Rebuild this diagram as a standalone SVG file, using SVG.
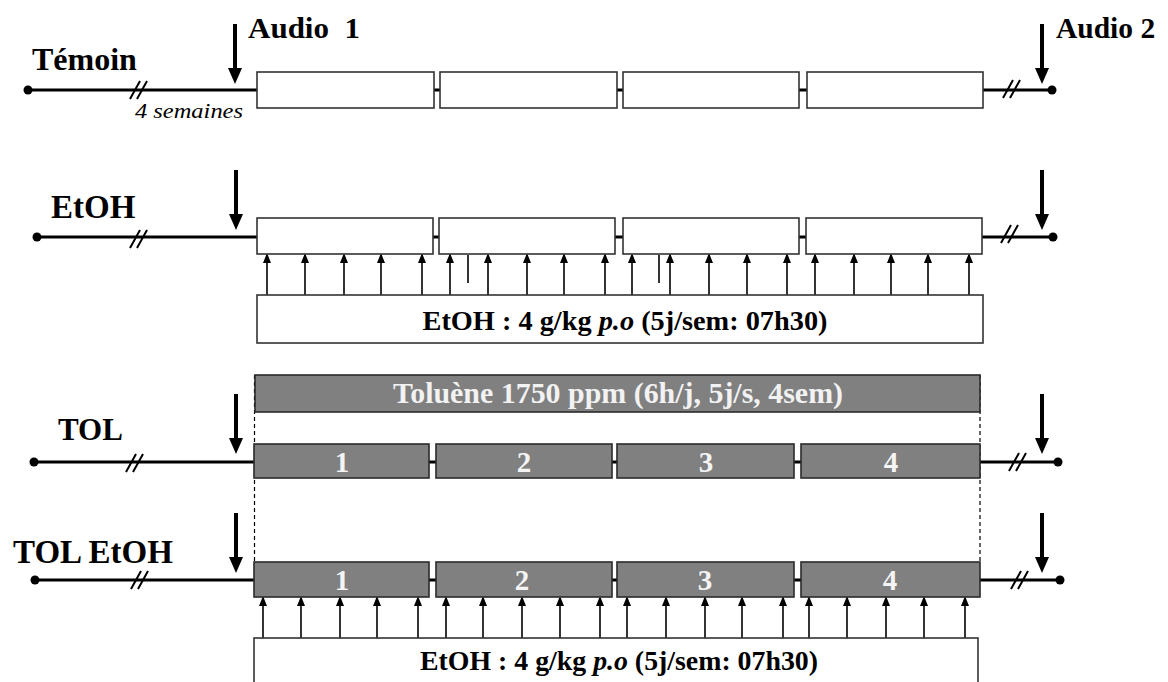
<svg xmlns="http://www.w3.org/2000/svg" xmlns:xlink="http://www.w3.org/1999/xlink" width="1168" height="682" viewBox="0 0 1168 682">
<style>
text{font-family:"Liberation Serif","Times New Roman",serif;font-weight:bold;fill:#000}
.lbl{font-size:32px}
.audio{font-size:29.5px}
.it{font-style:italic;font-weight:normal;font-size:22px}
.dose{font-size:28px}
.num{font-size:29px;fill:#f4f4f4}
.tol{font-size:30px;fill:#f2f2f2}
.wbox{fill:#fff;stroke:#333;stroke-width:1.6}
.gbox{fill:#808080;stroke:#2a2a2a;stroke-width:1.6}
.tl{stroke:#000;stroke-width:3;fill:none}
.thin{stroke:#000;stroke-width:1.6;fill:none}
.sa{stroke:#000;stroke-width:1.6;fill:none;marker-end:url(#ah)}
.brk{stroke:#000;stroke-width:2;fill:none}
.dash{stroke:#000;stroke-width:1.2;stroke-dasharray:4 3;fill:none}
</style>
<defs>
<marker id="ah" markerUnits="userSpaceOnUse" markerWidth="10" markerHeight="8" refX="8" refY="4" orient="auto">
<path d="M0,0 L10,4 L0,8 Z" fill="#000"/>
</marker>
<path id="big" d="M-2,0 H2 V44 H7 L0,60 L-7,44 H-2 Z" fill="#000"/>
<path id="brk" d="M-9,9 L1,-9 M-2,9 L8,-9"/>
<circle id="dot" r="4.5" fill="#000"/>
</defs>

<g id="connectors">
<line class="tl" x1="28" y1="90" x2="1052" y2="90"/>
<line class="tl" x1="37" y1="237" x2="1053" y2="237"/>
<line class="tl" x1="34" y1="462" x2="1058" y2="462"/>
<line class="tl" x1="35" y1="580" x2="1060" y2="580"/>
<use xlink:href="#dot" x="28" y="90"/><use xlink:href="#dot" x="1052" y="90"/>
<use xlink:href="#dot" x="37" y="237"/><use xlink:href="#dot" x="1053" y="237"/>
<use xlink:href="#dot" x="34" y="462"/><use xlink:href="#dot" x="1058" y="462"/>
<use xlink:href="#dot" x="35" y="580"/><use xlink:href="#dot" x="1060" y="580"/>
<g class="brk">
<use xlink:href="#brk" x="139" y="90"/><use xlink:href="#brk" x="1012" y="89"/>
<use xlink:href="#brk" x="139" y="239"/><use xlink:href="#brk" x="1010" y="234"/>
<use xlink:href="#brk" x="135" y="463"/><use xlink:href="#brk" x="1018" y="462"/>
<use xlink:href="#brk" x="140" y="580"/><use xlink:href="#brk" x="1020" y="580"/>
</g>
<use xlink:href="#big" x="235" y="24"/><use xlink:href="#big" x="1042" y="24"/>
<use xlink:href="#big" x="236" y="170"/><use xlink:href="#big" x="1042" y="170"/>
<use xlink:href="#big" x="236" y="394"/><use xlink:href="#big" x="1042" y="394"/>
<use xlink:href="#big" x="236" y="513"/><use xlink:href="#big" x="1042" y="513"/>
<line class="dash" x1="254.5" y1="375" x2="254.5" y2="562"/>
<line class="dash" x1="980" y1="375" x2="980" y2="562"/>
<g id="etoh-arrows-1">
<path class="sa" d="M267,295V255"/><path class="sa" d="M305,295V255"/><path class="sa" d="M344,295V255"/><path class="sa" d="M381,295V255"/><path class="sa" d="M422,295V255"/>
<path class="sa" d="M450,295V255"/><path class="sa" d="M488,295V255"/><path class="sa" d="M527,295V255"/><path class="sa" d="M564,295V255"/><path class="sa" d="M605,295V255"/>
<path class="sa" d="M632,295V255"/><path class="sa" d="M670,295V255"/><path class="sa" d="M709,295V255"/><path class="sa" d="M747,295V255"/><path class="sa" d="M787,295V255"/>
<path class="sa" d="M815,295V255"/><path class="sa" d="M854,295V255"/><path class="sa" d="M891,295V255"/><path class="sa" d="M928,295V255"/><path class="sa" d="M969,295V255"/>
<path class="thin" d="M468,255V283"/><path class="thin" d="M659,255V283"/>
</g>
<g id="etoh-arrows-2">
<path class="sa" d="M263,638V598"/><path class="sa" d="M301,638V598"/><path class="sa" d="M340,638V598"/><path class="sa" d="M377,638V598"/><path class="sa" d="M418,638V598"/>
<path class="sa" d="M446,638V598"/><path class="sa" d="M483,638V598"/><path class="sa" d="M522,638V598"/><path class="sa" d="M560,638V598"/><path class="sa" d="M600,638V598"/>
<path class="sa" d="M627,638V598"/><path class="sa" d="M666,638V598"/><path class="sa" d="M705,638V598"/><path class="sa" d="M742,638V598"/><path class="sa" d="M783,638V598"/>
<path class="sa" d="M809,638V598"/><path class="sa" d="M847,638V598"/><path class="sa" d="M886,638V598"/><path class="sa" d="M924,638V598"/><path class="sa" d="M965,638V598"/>
</g>
</g>

<g id="labels">
<text class="lbl" x="32" y="70">Témoin</text>
<text class="audio" x="248" y="38" xml:space="preserve" textLength="112" lengthAdjust="spacingAndGlyphs">Audio  1</text>
<text class="audio" x="1056" y="38">Audio 2</text>
<text class="it" x="135" y="118" textLength="108" lengthAdjust="spacingAndGlyphs">4 semaines</text>
<text class="lbl" x="51" y="218" style="font-size:33px">EtOH</text>
<text class="lbl" x="58" y="440" style="font-size:31px">TOL</text>
<text class="lbl" x="13" y="563" style="font-size:33px">TOL EtOH</text>
</g>

<g id="temoin-weeks">
<rect class="wbox" x="257" y="72" width="177" height="36"/>
<rect class="wbox" x="440" y="72" width="177" height="36"/>
<rect class="wbox" x="623" y="72" width="176" height="36"/>
<rect class="wbox" x="807" y="72" width="176" height="36"/>
</g>

<g id="etoh-weeks">
<rect class="wbox" x="257" y="218" width="176" height="36"/>
<rect class="wbox" x="439" y="218" width="176" height="36"/>
<rect class="wbox" x="623" y="218" width="176" height="36"/>
<rect class="wbox" x="806" y="218" width="176" height="36"/>
</g>

<g id="etoh-dose-1">
<rect class="wbox" x="257" y="295" width="726" height="48"/>
<text class="dose" x="625" y="330" text-anchor="middle" textLength="405" lengthAdjust="spacingAndGlyphs">EtOH : 4 g/kg <tspan font-style="italic">p.o</tspan> (5j/sem: 07h30)</text>
</g>

<g id="toluene">
<rect class="gbox" x="255" y="375" width="725" height="37"/>
<text class="tol" x="618" y="403" text-anchor="middle" textLength="450" lengthAdjust="spacingAndGlyphs">Toluène 1750 ppm (6h/j, 5j/s, 4sem)</text>
</g>

<g id="tol-weeks">
<rect class="gbox" x="254" y="444" width="175" height="34"/>
<rect class="gbox" x="436" y="444" width="176" height="34"/>
<rect class="gbox" x="617" y="444" width="177" height="34"/>
<rect class="gbox" x="801" y="444" width="179" height="34"/>
<text class="num" x="342" y="472" text-anchor="middle">1</text>
<text class="num" x="524" y="472" text-anchor="middle">2</text>
<text class="num" x="706" y="472" text-anchor="middle">3</text>
<text class="num" x="891" y="472" text-anchor="middle">4</text>
</g>

<g id="toletoh-weeks">
<rect class="gbox" x="254" y="562" width="175" height="35"/>
<rect class="gbox" x="436" y="562" width="176" height="35"/>
<rect class="gbox" x="617" y="562" width="177" height="35"/>
<rect class="gbox" x="801" y="562" width="179" height="35"/>
<text class="num" x="342" y="590" text-anchor="middle">1</text>
<text class="num" x="522" y="590" text-anchor="middle">2</text>
<text class="num" x="705" y="590" text-anchor="middle">3</text>
<text class="num" x="890" y="590" text-anchor="middle">4</text>
</g>

<g id="etoh-dose-2">
<rect class="wbox" x="254" y="638" width="724" height="60"/>
<text class="dose" x="619" y="670" text-anchor="middle" textLength="398" lengthAdjust="spacingAndGlyphs">EtOH : 4 g/kg <tspan font-style="italic">p.o</tspan> (5j/sem: 07h30)</text>
</g>
</svg>
